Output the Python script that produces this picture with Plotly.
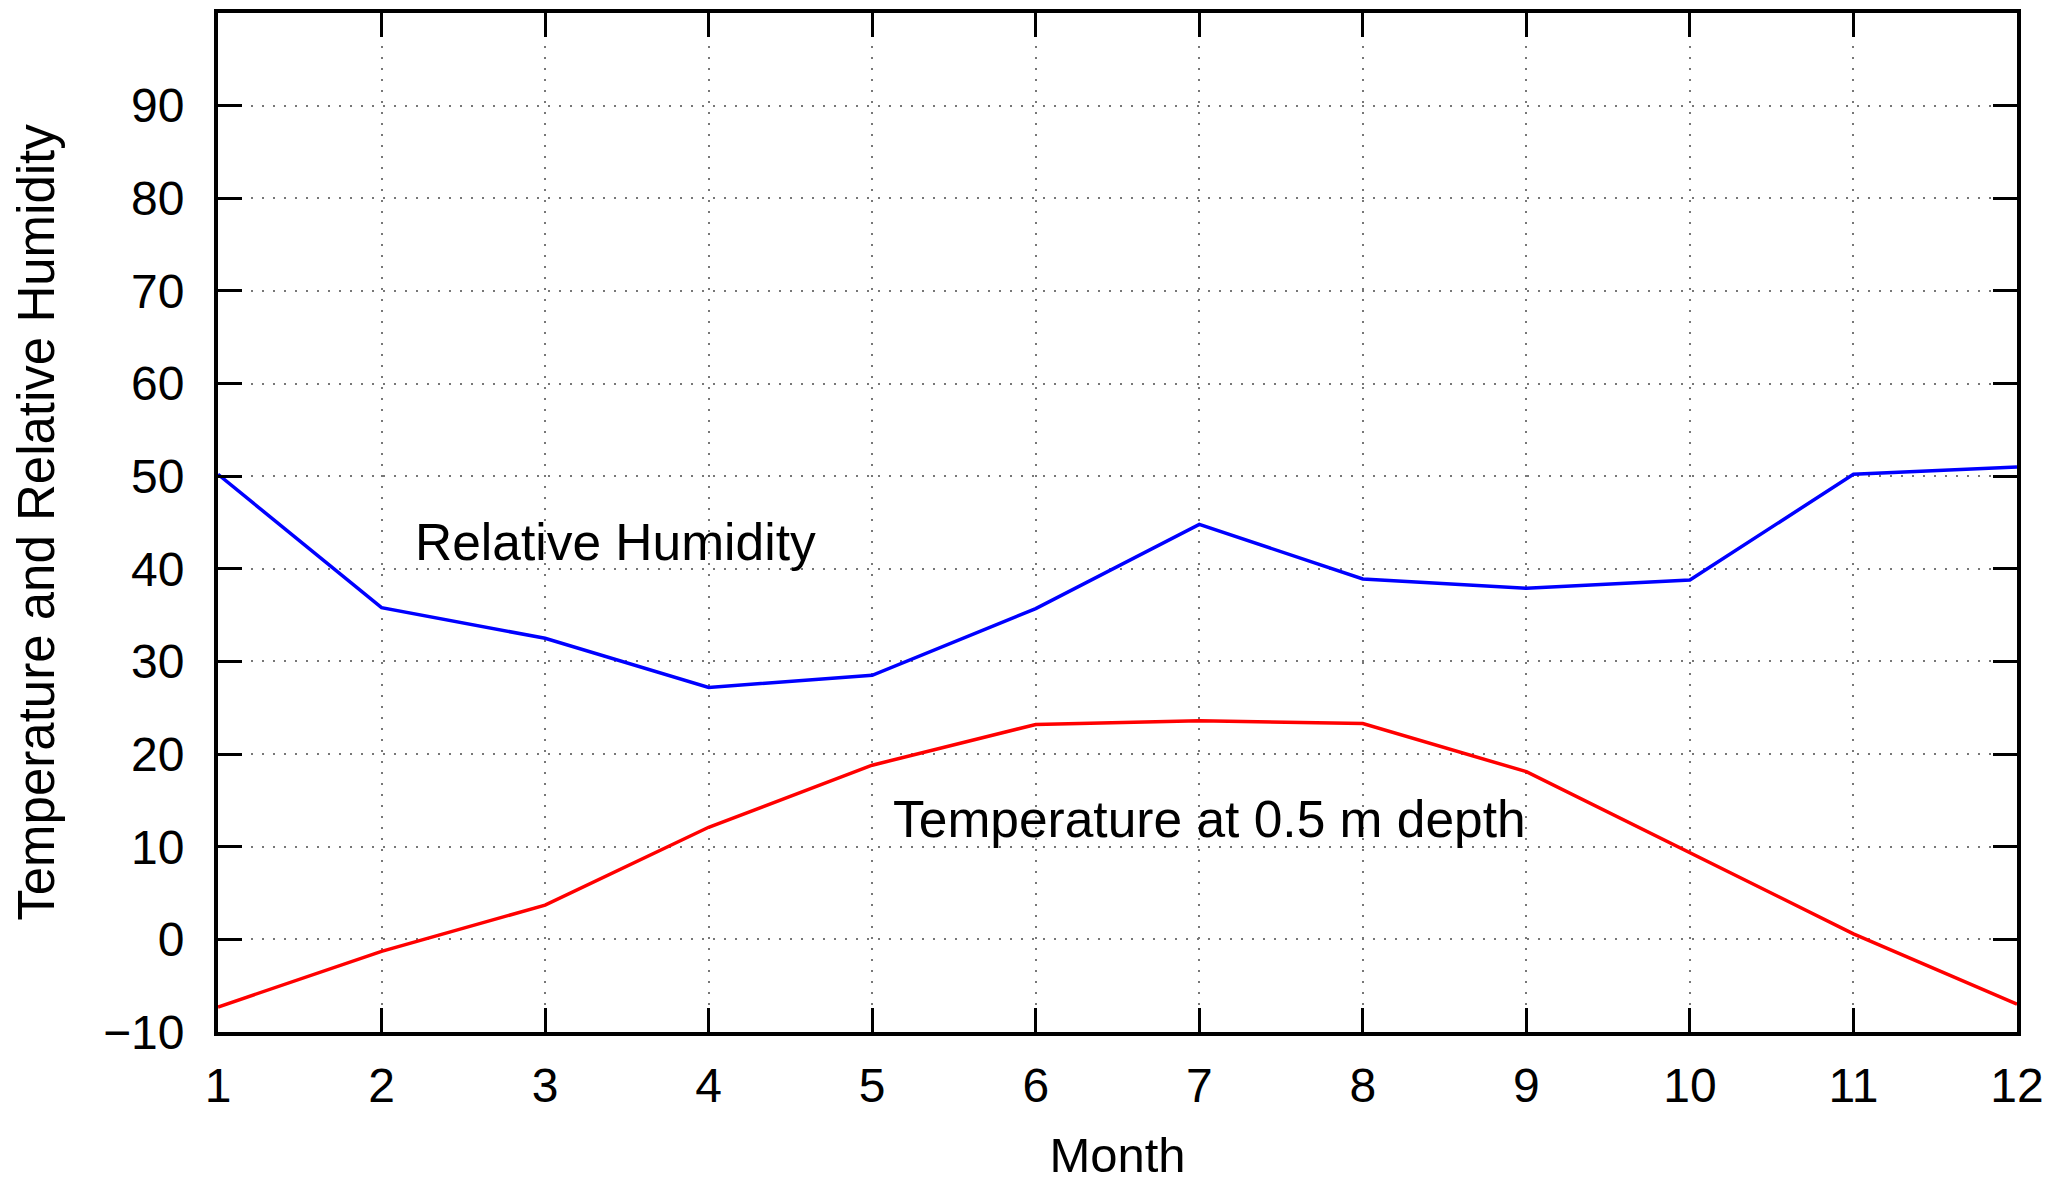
import plotly.graph_objects as go

months = list(range(1, 13))
humidity = [50.2, 35.8, 32.5, 27.2, 28.5, 35.7, 44.8, 38.9, 37.9, 38.8, 50.2, 51.0]
temperature = [-7.3, -1.3, 3.7, 12.1, 18.8, 23.2, 23.6, 23.3, 18.1, 9.3, 0.6, -7.0]
x_ticks = list(range(1, 13))
y_ticks = [-10, 0, 10, 20, 30, 40, 50, 60, 70, 80, 90]

FONT = "Liberation Sans, Arial, Helvetica, sans-serif"

fig = go.Figure()
fig.add_trace(go.Scatter(x=months, y=humidity, mode="lines",
                         line=dict(color="#0000FF", width=3.5), showlegend=False))
fig.add_trace(go.Scatter(x=months, y=temperature, mode="lines",
                         line=dict(color="#FF0000", width=3.5), showlegend=False))

fig.add_annotation(x=3.43, y=42.9, text="Relative Humidity", showarrow=False,
                   font=dict(family=FONT, size=51.5, color="black"))
fig.add_annotation(x=7.06, y=13.0, text="Temperature at 0.5 m depth", showarrow=False,
                   font=dict(family=FONT, size=51.5, color="black"))

axis_common = dict(
    showline=True, linecolor="black", linewidth=4, mirror="ticks",
    ticks="inside", ticklen=24, tickwidth=3, tickcolor="black",
    showgrid=True, gridcolor="#777777", gridwidth=2, griddash="2px,9px",
    zeroline=False, automargin=False,
    tickfont=dict(family=FONT, size=48, color="black"),
)

fig.update_xaxes(range=[1, 12], tickvals=x_ticks, ticktext=[str(v) for v in x_ticks],
                 title=dict(text="Month", font=dict(family=FONT, size=49, color="black"), standoff=34),
                 ticklabelstandoff=8, **axis_common)
fig.update_yaxes(range=[-10, 100], tickvals=y_ticks,
                 ticktext=[("\u221210" if v < 0 else str(v)) for v in y_ticks],
                 title=dict(text="Temperature and Relative Humidity",
                            font=dict(family=FONT, size=51, color="black"), standoff=33),
                 ticklabelstandoff=20, **axis_common)

# page body has an 8px default margin; size/margins compensate so the plot area
# lands where it does in the reference
fig.update_layout(
    width=2053, height=1174,
    margin=dict(l=210, r=44, t=5, b=150),
    plot_bgcolor="white", paper_bgcolor="white",
    font=dict(family=FONT, color="black"),
)

fig.write_html("out.html")
